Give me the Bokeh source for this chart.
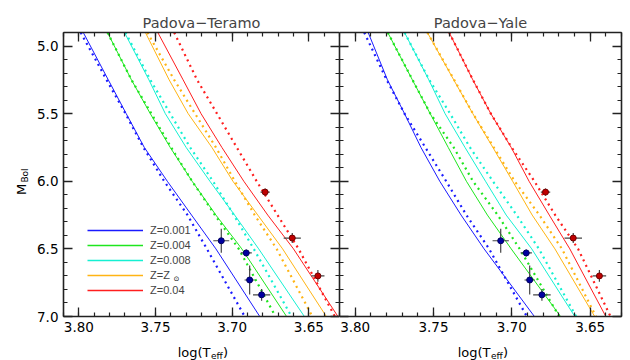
import numpy as np
from bokeh.plotting import figure
from bokeh.models import (Range1d, LinearAxis, Label, Legend, LegendItem,
                          FixedTicker, PrintfTickFormatter)
from bokeh.layouts import row, column
from bokeh.embed import file_html
from bokeh.resources import INLINE

# Bolometric magnitude grid at which the isochrones were read
M_BOL = [4.90, 5.25, 5.50, 5.75, 6.00, 6.25, 6.50, 7.00]

# Padova-Teramo panel: log(Teff) of isochrones (solid and dotted tracks)
PT_001_SOLID = [3.7971, 3.7808, 3.7691, 3.7573, 3.7423, 3.7265, 3.7106, 3.6820]
PT_001_DOT   = [3.7988, 3.7819, 3.7696, 3.7579, 3.7443, 3.7291, 3.7165, 3.6918]
PT_004_SOLID = [3.7813, 3.7657, 3.7534, 3.7404, 3.7261, 3.7106, 3.6937, 3.6645]
PT_004_DOT   = [3.7813, 3.7657, 3.7527, 3.7398, 3.7261, 3.7112, 3.6957, 3.6717]
PT_008_SOLID = [3.7702, 3.7543, 3.7436, 3.7300, 3.7145, 3.6984, 3.6827, 3.6529]
PT_008_DOT   = [3.7696, 3.7534, 3.7404, 3.7274, 3.7125, 3.6989, 3.6859, 3.6613]
PT_SUN_SOLID = [3.7566, 3.7411, 3.7287, 3.7132, 3.6995, 3.6833, 3.6671, 3.6386]
PT_SUN_DOT   = [3.7553, 3.7378, 3.7242, 3.7106, 3.6982, 3.6853, 3.6710, 3.6477]
PT_04_SOLID  = [3.7485, 3.7320, 3.7203, 3.7067, 3.6924, 3.6768, 3.6600, 3.6310]
PT_04_DOT    = [3.7378, 3.7229, 3.7099, 3.6970, 3.6840, 3.6704, 3.6567, 3.6330]

# Padova-Yale panel
PY_001_SOLID = [3.7917, 3.7794, 3.7685, 3.7580, 3.7460, 3.7324, 3.7177, 3.6856]
PY_001_DOT   = [3.7942, 3.7799, 3.7685, 3.7552, 3.7419, 3.7290, 3.7145, 3.6904]
PY_004_SOLID = [3.7792, 3.7635, 3.7521, 3.7406, 3.7290, 3.7156, 3.7004, 3.6689]
PY_004_DOT   = [3.7792, 3.7634, 3.7520, 3.7371, 3.7248, 3.7090, 3.6950, 3.6697]
PY_008_SOLID = [3.7685, 3.7530, 3.7426, 3.7299, 3.7168, 3.7036, 3.6873, 3.6598]
PY_008_DOT   = [3.7685, 3.7527, 3.7394, 3.7267, 3.7121, 3.6969, 3.6827, 3.6590]
PY_SUN_SOLID = [3.7539, 3.7371, 3.7249, 3.7121, 3.6995, 3.6870, 3.6725, 3.6471]
PY_SUN_DOT   = [3.7539, 3.7368, 3.7248, 3.7115, 3.6982, 3.6824, 3.6680, 3.6463]
PY_04_SOLID  = [3.7400, 3.7249, 3.7134, 3.7004, 3.6890, 3.6761, 3.6630, 3.6400]
PY_04_DOT    = [3.7400, 3.7248, 3.7134, 3.7001, 3.6856, 3.6723, 3.6577, 3.6370]

# Observed stars
BLUE_LOGT = [3.7071, 3.6908, 3.6886, 3.6808]
BLUE_MBOL = [6.44, 6.53, 6.73, 6.84]
BLUE_LOGT_ERR = [0.0052, 0.0036, 0.0033, 0.0056]
BLUE_MBOL_ERR = [0.089, 0.026, 0.107, 0.043]
RED_LOGT = [3.6785, 3.6608, 3.6441]
RED_MBOL = [6.08, 6.42, 6.70]
RED_LOGT_ERR = [0.0030, 0.0056, 0.0043]
RED_MBOL_ERR = [0.027, 0.037, 0.043]

LEGEND_LABELS = ["Z=0.001", "Z=0.004", "Z=0.008", "Z=Z", "Z=0.04"]
COLORS = ["#1a1aff", "#1ee61e", "#14f0d2", "#ffb414", "#ff1e1e"]

X_MAJOR = [3.65, 3.70, 3.75, 3.80]
X_MINOR = [round(3.63 + 0.01 * i, 2) for i in range(19)]
Y_MAJOR = [5.0, 5.5, 6.0, 6.5, 7.0]
Y_MINOR = [round(4.9 + 0.1 * i, 1) for i in range(22)]

FONT = "DejaVu Sans"
W_LEFT, W_RIGHT, H_FRAME = 276, 282, 284


def style_axis(ax, ticker, fmt, labels):
    ax.ticker = ticker
    ax.formatter = PrintfTickFormatter(format=fmt)
    ax.major_tick_in = 9
    ax.major_tick_out = 0
    ax.minor_tick_in = 4
    ax.minor_tick_out = 0
    ax.axis_line_color = "#222222"
    ax.axis_line_width = 1.6
    ax.major_tick_line_color = "#222222"
    ax.major_tick_line_width = 1.3
    ax.minor_tick_line_color = "#222222"
    ax.minor_tick_line_width = 1.2
    ax.major_label_text_font = FONT
    if labels:
        ax.major_label_text_color = "black"
        ax.major_label_text_font_size = "13.5px"
        ax.major_label_standoff = 5
    else:
        ax.major_label_text_color = None
        ax.major_label_text_alpha = 0
        ax.major_label_text_font_size = "0px"
        ax.major_label_standoff = 0


def make_panel(title, solids, dots, first):
    p = figure(frame_width=W_LEFT if first else W_RIGHT, frame_height=H_FRAME,
               x_range=Range1d(3.81, 3.63), y_range=Range1d(7.0, 4.9),
               output_backend="svg", toolbar_location=None,
               min_border_left=33 if first else 0,
               min_border_right=0 if first else 3,
               min_border_top=32, min_border_bottom=22,
               outline_line_color=None)
    p.title.text = title
    p.title.align = "center"
    p.title.text_font = FONT
    p.title.text_font_size = "14.5px"
    p.title.text_font_style = "normal"
    p.title.standoff = 4
    p.xgrid.visible = False
    p.ygrid.visible = False

    style_axis(p.xaxis[0], FixedTicker(ticks=X_MAJOR, minor_ticks=X_MINOR), "%.2f", True)
    style_axis(p.yaxis[0], FixedTicker(ticks=Y_MAJOR, minor_ticks=Y_MINOR), "%.1f", first)
    top = LinearAxis()
    style_axis(top, FixedTicker(ticks=X_MAJOR, minor_ticks=X_MINOR), "%.2f", False)
    p.add_layout(top, "above")
    right = LinearAxis()
    style_axis(right, FixedTicker(ticks=Y_MAJOR, minor_ticks=Y_MINOR), "%.1f", False)
    p.add_layout(right, "right")

    for xs, c in zip(solids, COLORS):
        p.line(x=xs, y=M_BOL, line_color=c, line_width=1)
    for xs, c in zip(dots, COLORS):
        p.line(x=xs, y=M_BOL, line_color=c, line_width=2.2, line_dash="2 4")

    for tx, mb, ex, ey in ((BLUE_LOGT, BLUE_MBOL, BLUE_LOGT_ERR, BLUE_MBOL_ERR),
                           (RED_LOGT, RED_MBOL, RED_LOGT_ERR, RED_MBOL_ERR)):
        t = np.array(tx); m = np.array(mb); et = np.array(ex); em = np.array(ey)
        p.segment(x0=t - et, x1=t + et, y0=m, y1=m, line_color="#444444", line_width=1.2)
        p.segment(x0=t, x1=t, y0=m - em, y1=m + em, line_color="#444444", line_width=1.2)
    p.scatter(x=BLUE_LOGT, y=BLUE_MBOL, size=6, fill_color="#0000a0", line_color="#000060")
    p.scatter(x=RED_LOGT, y=RED_MBOL, size=6, fill_color="#c00000", line_color="#700000")
    return p


def blank(width, height):
    b = figure(width=width, height=height, x_range=Range1d(0, 1), y_range=Range1d(0, 1),
               output_backend="svg", toolbar_location=None, min_border=0, title=None,
               x_axis_location=None, y_axis_location=None, outline_line_color=None)
    b.xgrid.visible = False
    b.ygrid.visible = False
    return b


p1 = make_panel("Padova\u2212Teramo",
                [PT_001_SOLID, PT_004_SOLID, PT_008_SOLID, PT_SUN_SOLID, PT_04_SOLID],
                [PT_001_DOT, PT_004_DOT, PT_008_DOT, PT_SUN_DOT, PT_04_DOT], True)
p2 = make_panel("Padova\u2212Yale",
                [PY_001_SOLID, PY_004_SOLID, PY_008_SOLID, PY_SUN_SOLID, PY_04_SOLID],
                [PY_001_DOT, PY_004_DOT, PY_008_DOT, PY_SUN_DOT, PY_04_DOT], False)

# legend (proxy renderers holding a single NaN point)
items = []
for lab, c in zip(LEGEND_LABELS, COLORS):
    r = p1.line(x=[np.nan], y=[np.nan], line_color=c, line_width=1.6)
    items.append(LegendItem(label=lab, renderers=[r]))
leg = Legend(items=items, location=(24, 20), padding=0, margin=0, spacing=3,
             glyph_width=56, glyph_height=12, label_height=12, label_standoff=7,
             label_text_font="Liberation Sans", label_text_font_size="11px",
             border_line_color=None, background_fill_alpha=0)
p1.add_layout(leg)
p1.add_layout(Label(x=110, y=38, x_units="screen", y_units="screen", text="\u2299",
                    text_align="left", text_baseline="middle",
                    text_font="DejaVu Sans", text_font_size="7px", text_color="black"))

# y-axis label strip: M_Bol
ylab = blank(30, 338)
ylab.add_layout(Label(x=21, y=127, x_units="screen", y_units="screen", text="M",
                      angle=np.pi / 2, text_align="center", text_baseline="middle",
                      text_font=FONT, text_font_size="13px", text_color="black"))
ylab.add_layout(Label(x=24, y=141, x_units="screen", y_units="screen", text="Bol",
                      angle=np.pi / 2, text_align="center", text_baseline="middle",
                      text_font=FONT, text_font_size="9px", text_color="black"))

# x-axis label strip: log(T_eff) under each panel
xlab = blank(627, 22)
for right_edge in (210, 490):
    xlab.add_layout(Label(x=right_edge, y=8, x_units="screen", y_units="screen", text="log(T",
                          text_align="right", text_baseline="alphabetic",
                          text_font=FONT, text_font_size="13px", text_color="black"))
    xlab.add_layout(Label(x=right_edge + 0.5, y=5, x_units="screen", y_units="screen", text="eff",
                          text_align="left", text_baseline="alphabetic",
                          text_font=FONT, text_font_size="9px", text_color="black"))
    xlab.add_layout(Label(x=right_edge + 12.5, y=8, x_units="screen", y_units="screen", text=")",
                          text_align="left", text_baseline="alphabetic",
                          text_font=FONT, text_font_size="13px", text_color="black"))

layout = column(row(ylab, p1, p2), xlab)
open("out.html", "w").write(file_html(layout, INLINE))
